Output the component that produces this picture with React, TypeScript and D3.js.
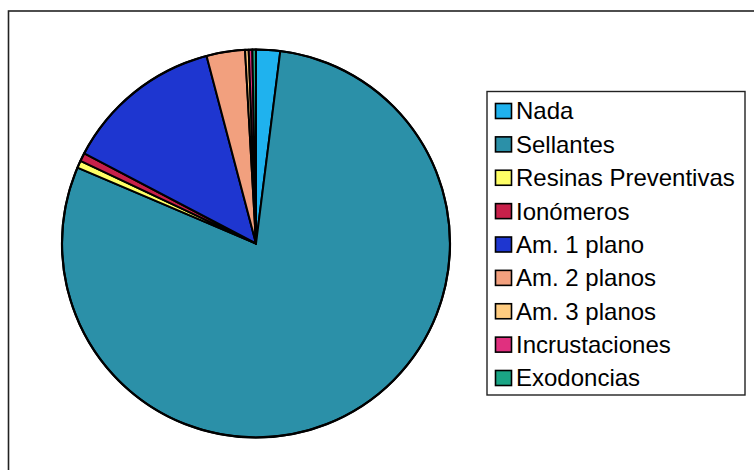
import React from "react";
import * as d3 from "d3";

const categories = [
  "Nada",
  "Sellantes",
  "Resinas Preventivas",
  "Ionómeros",
  "Am. 1 plano",
  "Am. 2 planos",
  "Am. 3 planos",
  "Incrustaciones",
  "Exodoncias",
];
const values = [2.0, 79.4, 0.6, 0.7, 13.2, 3.2, 0.3, 0.3, 0.3];
const colors = [
  "#1fb2ee",
  "#2b90a8",
  "#ffff66",
  "#c8204a",
  "#1e36d0",
  "#f2a07e",
  "#ffcc80",
  "#e0307f",
  "#1aa585",
];

export default function App() {
  const W = 754;
  const H = 470;
  const cx = 256;
  const cy = 243.5;
  const r = 194;

  const pie = d3
    .pie<number>()
    .sort(null)
    .value((d) => d)
    .startAngle(0)
    .endAngle(2 * Math.PI);
  const arcs = pie(values);
  const arcGen = d3.arc<d3.PieArcDatum<number>>().innerRadius(0).outerRadius(r);

  const legendX = 487;
  const legendY = 91.5;
  const legendW = 258;
  const legendH = 303.5;
  const rowY = d3
    .scaleLinear()
    .domain([0, categories.length - 1])
    .range([111, 378]);

  return (
    <svg
      width={W}
      height={H}
      style={{ position: "absolute", left: 0, top: 0, background: "#fff" }}
    >
      <rect x={0} y={0} width={W} height={H} fill="#fff" />
      <rect
        x={8.5}
        y={11}
        width={W + 10}
        height={H + 10}
        fill="none"
        stroke="#222"
        strokeWidth={1.6}
      />
      <g transform={`translate(${cx},${cy})`}>
        {arcs.map((a, i) => (
          <path
            key={i}
            d={arcGen(a) || ""}
            fill={colors[i]}
            stroke="#000"
            strokeWidth={2}
            strokeLinejoin="round"
          />
        ))}
        <circle r={r} fill="none" stroke="#000" strokeWidth={2.2} />
      </g>
      <rect
        x={legendX}
        y={legendY}
        width={legendW}
        height={legendH}
        fill="#fff"
        stroke="#222"
        strokeWidth={1.4}
      />
      {categories.map((c, i) => {
        const y = rowY(i);
        return (
          <g key={c}>
            <rect
              x={495.5}
              y={y - 7.5}
              width={16}
              height={15}
              fill={colors[i]}
              stroke="#000"
              strokeWidth={1.6}
            />
            <text
              x={516}
              y={y}
              dy="0.35em"
              fontFamily="'Liberation Sans', Arial, sans-serif"
              fontSize={24}
              fill="#000"
            >
              {c}
            </text>
          </g>
        );
      })}
    </svg>
  );
}
